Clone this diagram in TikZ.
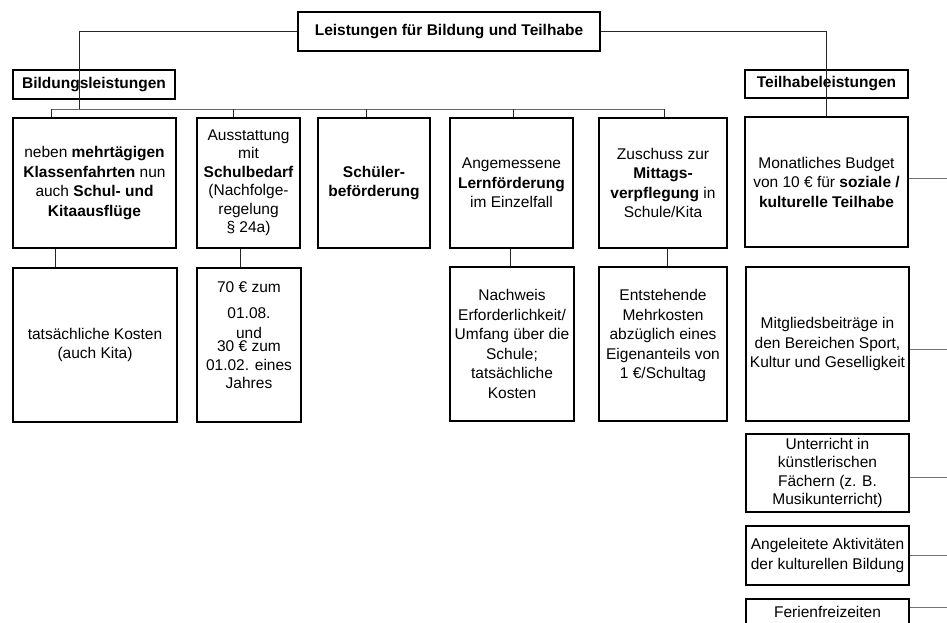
\documentclass[tikz,border=0pt]{standalone}
\usepackage{fontspec}
\setmainfont{Liberation Sans}
\usetikzlibrary{calc}
\begin{document}
\begin{tikzpicture}[x=1pt,y=-1pt,
  box/.style={draw, line width=1.6pt, inner sep=0pt, align=center, font=\fontsize{15.5}{19.5}\selectfont},
  headbox/.style={draw, line width=1.8pt, inner sep=0pt, align=center, font=\fontsize{15.5}{19}\selectfont\bfseries},
  conn/.style={line width=0.8pt, draw=black!85},
  busline/.style={line width=0.8pt, draw=black!60},
  side/.style={line width=0.8pt, draw=black!55}]
\useasboundingbox[fill=white] (0,0) rectangle (947,622);

% headers
\node[headbox, minimum width=302pt, minimum height=39pt] (title) at (449,31.5) {Leistungen für Bildung und Teilhabe};
\node[headbox, minimum width=162pt, minimum height=29pt] (bild) at (94,84.5) {Bildungsleistungen};
\node[headbox, minimum width=163pt, minimum height=28pt] (teil) at (826.5,84) {Teilhabeleistungen};

% first row
\node[box, minimum width=163pt, minimum height=130pt] (b1) at (94.5,183) {neben \textbf{mehrtägigen}\\\textbf{Klassenfahrten} nun\\auch \textbf{Schul- und}\\\textbf{Kitaausflüge}};
\node[box, minimum width=103pt, minimum height=130pt, font=\fontsize{15.5}{18.5}\selectfont] (b2) at (248.5,183) {Ausstattung\\mit\\\textbf{Schulbedarf}\\(Nachfolge-\\regelung\\§ 24a)};
\node[box, minimum width=112pt, minimum height=130pt] (b3) at (374,183) {\textbf{Schüler-}\\\textbf{beförderung}};
\node[box, minimum width=123pt, minimum height=130pt] (b4) at (511.5,183) {Angemessene\\\textbf{Lernförderung}\\im Einzelfall};
\node[box, minimum width=128pt, minimum height=130pt] (b5) at (663,183) {Zuschuss zur\\\textbf{Mittags-}\\\textbf{verpflegung} in\\Schule/Kita};
\node[box, minimum width=163pt, minimum height=130pt] (b6) at (826.5,182) {Monatliches Budget\\von 10 € für \textbf{soziale /}\\\textbf{kulturelle Teilhabe}};

% second row
\node[box, minimum width=164pt, minimum height=154pt] (c1) at (95,345) {tatsächliche Kosten\\(auch Kita)};
\node[box, minimum width=104pt, minimum height=154pt] (c2) at (249,345) {70 € zum\\[6.5pt]01.08.\\und\\[-6.5pt]30 € zum\\01.02. eines\\[-1.5pt]Jahres\\[0pt]\mbox{}};
\node[box, minimum width=124pt, minimum height=154pt] (c4) at (512,344) {Nachweis\\Erforderlichkeit/\\Umfang über die\\Schule;\\tatsächliche\\Kosten};
\node[box, minimum width=128pt, minimum height=154pt] (c5) at (663,344) {Entstehende\\Mehrkosten\\abzüglich eines\\Eigenanteils von\\1 €/Schultag\\[0pt]\mbox{}};

% right column
\node[box, minimum width=163pt, minimum height=154pt] (b7) at (827.5,344) {Mitgliedsbeiträge in\\den Bereichen Sport,\\Kultur und Geselligkeit};
\node[box, minimum width=163pt, minimum height=78pt, font=\fontsize{15.5}{18.5}\selectfont] (b8) at (827.5,473) {Unterricht in\\künstlerischen\\Fächern (z. B.\\Musikunterricht)};
\node[box, minimum width=163pt, minimum height=59pt] (b9) at (827.5,555.5) {Angeleitete Aktivitäten\\der kulturellen Bildung};
\node[box, anchor=north, minimum width=163pt, text height=17pt, text depth=24pt, inner ysep=2pt] (b10) at (827.5,598) {Ferienfreizeiten};

% connectors from title
\coordinate (busL) at (79,109);
\draw[conn] (title.west) -| (busL);
\draw[conn] (title.east) -| (b6.north);

% bus for Bildungsleistungen
\coordinate (busA) at (51,109);
\coordinate (busB) at (233,109);
\coordinate (busC) at (366,109);
\coordinate (busD) at (513,109);
\coordinate (busE) at (664,109);
\draw[busline] (busA) -- (busE);
\draw[conn] (busA) -- (busA |- b1.north);
\draw[conn] (busB) -- (busB |- b2.north);
\draw[conn] (busC) -- (busC |- b3.north);
\draw[conn] (busD) -- (busD |- b4.north);
\draw[conn] (busE) -- (busE |- b5.north);

% first to second row
\coordinate (dA) at (55,0);
\coordinate (dB) at (240,0);
\coordinate (dD) at (510,0);
\coordinate (dE) at (667,0);
\draw[conn] (dA |- b1.south) -- (dA |- c1.north);
\draw[conn] (dB |- b2.south) -- (dB |- c2.north);
\draw[conn] (dD |- b4.south) -- (dD |- c4.north);
\draw[conn] (dE |- b5.south) -- (dE |- c5.north);

% right column side lines
\coordinate (edge) at (947,0);
\coordinate (r6) at ([yshift=4pt]b6.east);
\coordinate (r7) at ([yshift=-5pt]b7.east);
\coordinate (r8) at ([yshift=-4pt]b8.east);
\coordinate (r9) at (b9.east);
\coordinate (r10) at ([yshift=-9pt]b10.north east);
\draw[side] (r6) -- (r6 -| edge);
\draw[side] (r7) -- (r7 -| edge);
\draw[side] (r8) -- (r8 -| edge);
\draw[side] (r9) -- (r9 -| edge);
\draw[side] (r10) -- (r10 -| edge);
\end{tikzpicture}
\end{document}
